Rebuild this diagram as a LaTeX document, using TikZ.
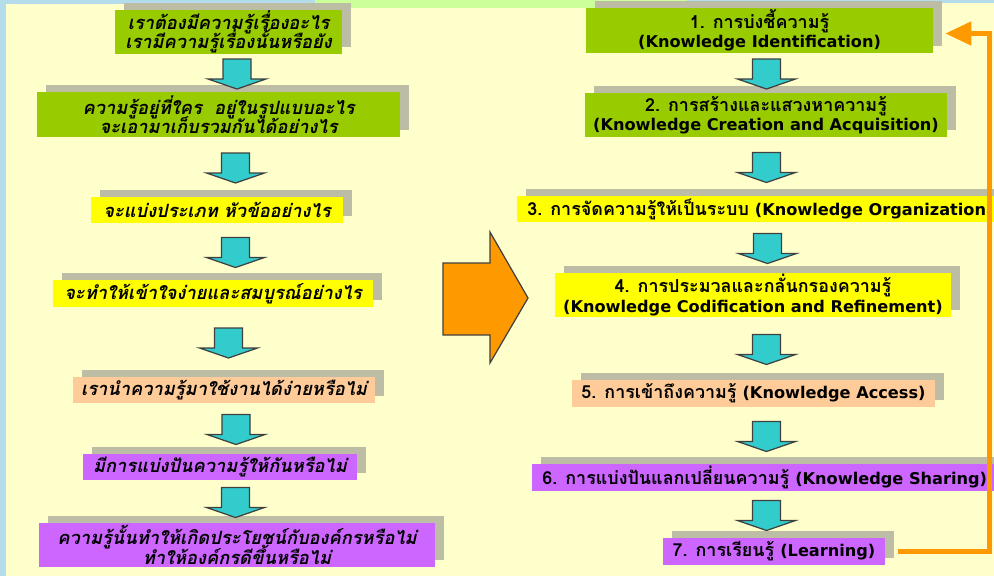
\documentclass[tikz,border=0pt]{standalone}
\usepackage{fontspec}
\usetikzlibrary{arrows.meta, calc, shadows}
\newfontfamily\thaifont[Script=Thai]{Loma}
\newfontfamily\latinfont{DejaVu Sans}
\newcommand{\eng}[1]{{\latinfont\fontsize{9.2}{11}\selectfont #1}}
\definecolor{KMBack}{HTML}{FFFFCC}
\definecolor{KMGreen}{HTML}{99CC00}
\definecolor{KMYellow}{HTML}{FFFF00}
\definecolor{KMPeach}{HTML}{FFCC99}
\definecolor{KMPurple}{HTML}{CC66FF}
\definecolor{KMCyan}{HTML}{33CCCC}
\definecolor{KMOrange}{HTML}{FF9900}
\definecolor{KMShadow}{HTML}{BDBCA4}
\definecolor{KMSky}{HTML}{B4DCEB}
\definecolor{KMLime}{HTML}{CCFF99}
\tikzset{
    % flat boxes with a grey copy behind them
    stage/.style={
        rectangle,
        inner sep=0pt,
        align=center,
        text=black,
        drop shadow={shadow xshift=0.18cm, shadow yshift=0.14cm, fill=KMShadow, opacity=1}
    },
    question/.style={
        stage,
        font=\thaifont\bfseries\itshape\fontsize{10.4}{11}\selectfont\setlength{\lineskiplimit}{-6pt}
    },
    process/.style={
        stage,
        font=\thaifont\bfseries\fontsize{10.2}{11}\selectfont\setlength{\lineskiplimit}{-6pt}
    },
    stage green/.style={fill=KMGreen},
    stage yellow/.style={fill=KMYellow},
    stage peach/.style={fill=KMPeach},
    stage purple/.style={fill=KMPurple},
    down arrow/.style={
        fill=KMCyan,
        draw=black!75,
        line width=0.7pt,
        line join=miter
    },
    big arrow/.style={
        fill=KMOrange,
        draw=black!75,
        line width=0.7pt
    },
    feedback/.style={
        -{Triangle[length=0.52cm, width=0.46cm]},
        draw=KMOrange,
        line width=0.1cm
    }
}
\begin{document}
\begin{tikzpicture}[x=0.02cm, y=-0.02cm]
        % Page and edge bands
        \useasboundingbox (0,0) rectangle (994,576);
        \clip (0,0) rectangle (994,576);
        \fill[KMBack] (0,0) rectangle (994,576);
        \fill[KMSky] (0,0) rectangle (6,576);
        \fill[KMSky] (0,0) rectangle (315,4);
        \fill[KMLime] (315,0) rectangle (687,8);
        \fill[KMSky] (687,0) rectangle (994,3);

        % Questions (left column)
        \node[question, stage green, minimum width=4.54cm, minimum height=0.88cm] (L1) at (228.5,32) {
            เราต้องมีความรู้เรื่องอะไร\\
            เรามีความรู้เรื่องนั้นหรือยัง
        };
        \node[question, stage green, minimum width=7.26cm, minimum height=0.9cm] (L2) at (218.5,114.5) {
            ความรู้อยู่ที่ใคร~~อยู่ในรูปแบบอะไร\\
            จะเอามาเก็บรวมกันได้อย่างไร
        };
        \node[question, stage yellow, minimum width=5.04cm, minimum height=0.52cm] (L3) at (217,210) {จะแบ่งประเภท หัวข้ออย่างไร};
        \node[question, stage yellow, minimum width=6.4cm, minimum height=0.54cm] (L4) at (213,293.5) {จะทำให้เข้าใจง่ายและสมบูรณ์อย่างไร};
        \node[question, stage peach, minimum width=6.04cm, minimum height=0.52cm] (L5) at (224,390) {เรานำความรู้มาใช้งานได้ง่ายหรือไม่};
        \node[question, stage purple, minimum width=5.48cm, minimum height=0.52cm] (L6) at (220,467) {มีการแบ่งปันความรู้ให้กันหรือไม่};
        \node[question, stage purple, minimum width=7.92cm, minimum height=0.88cm] (L7) at (237,545) {
            ความรู้นั้นทำให้เกิดประโยชน์กับองค์กรหรือไม่\\
            ทำให้องค์กรดีขึ้นหรือไม่
        };

        % Process steps (right column)
        \node[process, stage green, minimum width=6.94cm, minimum height=0.9cm] (R1) at (759.5,30.5) {
            1. การบ่งชี้ความรู้\\
            \eng{(Knowledge Identification)}
        };
        \node[process, stage green, minimum width=7.24cm, minimum height=0.88cm] (R2) at (766,115) {
            2. การสร้างและแสวงหาความรู้\\
            \eng{(Knowledge Creation and Acquisition)}
        };
        \node[process, stage yellow, anchor=west, inner xsep=0.2cm, minimum width=9.46cm, minimum height=0.52cm] (R3) at (517,209) {3. การจัดความรู้ให้เป็นระบบ \eng{(Knowledge Organization)}};
        \node[process, stage yellow, minimum width=7.92cm, minimum height=0.88cm] (R4) at (753,295) {
            4. การประมวลและกลั่นกรองความรู้\\
            \eng{(Knowledge Codification and Refinement)}
        };
        \node[process, stage peach, minimum width=7.26cm, minimum height=0.54cm] (R5) at (753.5,393.5) {5. การเข้าถึงความรู้ \eng{(Knowledge Access)}};
        \node[process, stage purple, anchor=west, inner xsep=0.2cm, minimum width=9.16cm, minimum height=0.54cm] (R6) at (532,477.5) {6. การแบ่งปันแลกเปลี่ยนความรู้ \eng{(Knowledge Sharing)}};
        \node[process, stage purple, minimum width=4.44cm, minimum height=0.54cm] (R7) at (774,551.5) {7. การเรียนรู้ \eng{(Learning)}};

        % Block arrows between the boxes
        \foreach \a/\b/\x in {L1/L2/237, L2/L3/235.5, L3/L4/235.5, L4/L5/228.5, L5/L6/236, L6/L7/235.5,
                              R1/R2/766.5, R2/R3/766.5, R3/R4/767.5, R4/R5/766.5, R5/R6/766.5, R6/R7/766.5} {
            \path ($(\a.south)!0.5!(\b.north)$) coordinate (mid);
            \coordinate (col) at (\x,0);
            \draw[down arrow] (col |- mid) ++(-14,-14) -- ++(28,0) -- ++(0,20) -- ++(15,0)
                -- ++(-29,10) -- ++(-29,-10) -- ++(15,0) -- cycle;
        }

        % From questions to process
        \draw[big arrow] (443,263) -- (490,263) -- (490,232) -- (528,298)
            -- (490,363) -- (490,335) -- (443,335) -- cycle;

        % Loop back from learning to identification
        \coordinate (tailR) at ([xshift=0.26cm]R7.east);
        \coordinate (tipR) at ([xshift=0.24cm, yshift=-0.06cm]R1.east);
        \draw[feedback] (tailR) -| ($(tipR)+(44,0)$) -- (tipR);
    \end{tikzpicture}
\end{document}
